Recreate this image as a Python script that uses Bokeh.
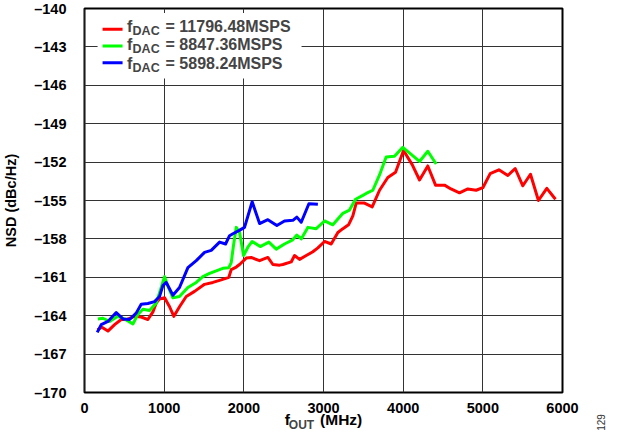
import math
from bokeh.plotting import figure
from bokeh.models import FixedTicker, Label, BoxAnnotation, Arrow, Range1d
from bokeh.embed import file_html
from bokeh.resources import INLINE

# ---------------- data ----------------
red_f = [163, 217, 293, 377, 460, 523, 628, 711, 795, 858, 900, 941, 1004, 1067, 1121, 1192,
         1276, 1381, 1506, 1611, 1715, 1811, 1841, 1904, 1946, 2029, 2092, 2197, 2301, 2364,
         2448, 2489, 2594, 2636, 2699, 2783, 2866, 2929, 3013, 3096, 3180, 3243, 3314, 3368,
         3410, 3514, 3611, 3703, 3807, 3904, 4004, 4113, 4205, 4309, 4406, 4519, 4600, 4707,
         4811, 4916, 5000, 5092, 5201, 5314, 5406, 5502, 5598, 5698, 5803, 5912]
red_nsd = [-165.1, -164.9, -165.2, -164.7, -164.3, -164.3, -164.05, -164.1, -164.3, -163.7,
           -163.0, -162.7, -162.6, -163.3, -164.05, -163.3, -162.5, -162.1, -161.55, -161.4,
           -161.2, -161.0, -160.4, -160.2, -160.0, -159.5, -159.45, -159.7, -159.45, -160.0,
           -160.05, -160.0, -159.8, -159.3, -159.6, -159.3, -159.0, -158.7, -158.2, -158.4,
           -157.5, -157.2, -156.9, -156.2, -155.2, -155.2, -155.5, -154.2, -153.2, -152.8,
           -151.1, -152.2, -153.4, -152.3, -153.8, -153.8, -154.1, -154.4, -154.1, -154.2,
           -154.0, -152.9, -152.6, -153.05, -152.5, -153.85, -152.95, -155.0, -154.05, -154.9]

green_f = [167, 230, 314, 418, 502, 607, 669, 732, 816, 900, 962, 1004, 1046, 1109, 1192,
           1297, 1402, 1485, 1569, 1653, 1736, 1811, 1841, 1870, 1904, 1946, 1996, 2050, 2104,
           2205, 2314, 2406, 2510, 2607, 2665, 2720, 2803, 2908, 3013, 3117, 3243, 3326, 3402,
           3494, 3536, 3619, 3703, 3786, 3891, 3995, 4100, 4205, 4309, 4414]
green_nsd = [-164.25, -164.2, -164.45, -164.05, -164.25, -164.65, -163.9, -163.5, -163.6,
             -163.0, -161.8, -160.95, -161.7, -162.6, -162.5, -161.8, -161.4, -160.95, -160.7,
             -160.5, -160.3, -160.25, -159.85, -158.5, -157.1, -157.5, -159.3, -158.65, -158.2,
             -158.6, -158.25, -158.8, -158.4, -158.1, -157.7, -158.0, -157.1, -157.2, -156.6,
             -156.9, -156.0, -155.75, -154.9, -154.6, -154.45, -154.2, -153.0, -151.6, -151.55,
             -150.85, -151.4, -151.95, -151.15, -152.15]

blue_f = [159, 209, 293, 397, 481, 565, 648, 711, 795, 879, 941, 983, 1025, 1109, 1192, 1297,
          1402, 1506, 1590, 1695, 1770, 1820, 1862, 1937, 2008, 2104, 2197, 2301, 2414, 2510,
          2615, 2665, 2720, 2816, 2929]
blue_nsd = [-165.3, -164.7, -164.45, -163.75, -164.25, -164.3, -163.8, -163.1, -163.05, -162.9,
            -162.5, -161.65, -161.4, -162.4, -161.8, -160.25, -159.7, -159.05, -158.9, -158.25,
            -158.4, -157.75, -157.6, -157.35, -157.1, -155.1, -156.8, -156.5, -156.95, -156.6,
            -156.55, -156.3, -156.7, -155.25, -155.3]

legend_values = ["= 11796.48MSPS", "= 8847.36MSPS", "= 5898.24MSPS"]
legend_main, legend_sub = "f", "DAC"
series_colors = ["#FF0000", "#00FF00", "#0000FF"]

x_ticks = [0, 1000, 2000, 3000, 4000, 5000, 6000]
y_ticks = [-170, -167, -164, -161, -158, -155, -152, -149, -146, -143, -140]
y_tick_labels = {t: "\u2013" + str(abs(t)) for t in y_ticks}
x_tick_labels = {t: str(t) for t in x_ticks}
x_label_main, x_label_sub, x_label_unit = "f", "OUT", "(MHz)"
y_label = "NSD (dBc/Hz)"
fig_note = "129"

# ---------------- geometry ----------------
FONT = "Liberation Sans"
W, H = 607, 432
FL, FR, FT, FB = 78, 45, 8, 40
FW, FH = W - FL - FR, H - FT - FB
X0, X1, Y0, Y1 = 0, 6000, -170, -140
# frame of the reference picture (photo pixels), used to place legend decorations
RX0, RX1, RY0, RY1 = 85.0, 563.0, 10.5, 392.0


def dx(ix):
    return X0 + (ix - RX0) / (RX1 - RX0) * (X1 - X0)


def dy(iy):
    return Y1 - (iy - RY0) / (RY1 - RY0) * (Y1 - Y0)


p = figure(width=W, height=H, output_backend="svg", toolbar_location=None,
           x_range=Range1d(X0 - 1, X1), y_range=Range1d(Y0, Y1),
           min_border_left=FL, min_border_right=FR, min_border_top=FT, min_border_bottom=FB)
p.background_fill_color = "white"
p.border_fill_color = "white"
p.outline_line_color = "black"
p.outline_line_width = 2

p.xaxis.ticker = FixedTicker(ticks=x_ticks)
p.yaxis.ticker = FixedTicker(ticks=y_ticks)
p.yaxis.major_label_overrides = y_tick_labels
p.xaxis.major_label_overrides = x_tick_labels
for ax in (p.xaxis, p.yaxis):
    ax.axis_line_color = None
    ax.major_tick_line_color = None
    ax.minor_tick_line_color = None
    ax.major_label_text_font = FONT
    ax.major_label_text_font_style = "bold"
    ax.major_label_text_font_size = "14.5px"
    ax.major_label_text_color = "black"
p.yaxis.major_label_standoff = 12
p.xaxis.major_label_standoff = 4
p.yaxis.axis_label = y_label
p.yaxis.axis_label_text_font = FONT
p.yaxis.axis_label_text_font_style = "bold"
p.yaxis.axis_label_text_font_size = "14.5px"
p.yaxis.axis_label_text_color = "black"
p.yaxis.axis_label_standoff = 12

# x title: "f ... (MHz)" centred under the frame; the subscript goes in the gap
p.xaxis.axis_label = x_label_main + "\u00a0" * 7 + x_label_unit
p.xaxis.axis_label_text_font = FONT
p.xaxis.axis_label_text_font_style = "bold"
p.xaxis.axis_label_text_font_size = "15.5px"
p.xaxis.axis_label_text_color = "black"
p.xaxis.axis_label_standoff = -5

p.xgrid.grid_line_color = "#333333"
p.ygrid.grid_line_color = "#333333"
p.xgrid.grid_line_width = 1
p.ygrid.grid_line_width = 1

for fxs, fys, c in ((red_f, red_nsd, series_colors[0]),
                    (green_f, green_nsd, series_colors[1]),
                    (blue_f, blue_nsd, series_colors[2])):
    p.line(fxs, fys, line_color=c, line_width=3, line_join="round")

# ---------------- legend (custom, with subscripts) ----------------
p.add_layout(BoxAnnotation(left=dx(98), right=dx(302), top=dy(15), bottom=dy(80),
                           fill_color="white", fill_alpha=1.0, line_color=None))
swatch_rows = [31.0, 47.7, 64.3]
text_rows = [28.7, 46.2, 65.0]
for ry, ty, c, txt in zip(swatch_rows, text_rows, series_colors, legend_values):
    p.add_layout(Arrow(x_start=dx(103), y_start=dy(ry), x_end=dx(123), y_end=dy(ry),
                       start=None, end=None, line_color=c, line_width=3))
    p.add_layout(Label(x=dx(127.5), y=dy(ty), text=legend_main, text_font=FONT,
                       text_font_style="bold", text_font_size="16px",
                       text_baseline="middle", text_align="left"))
    p.add_layout(Label(x=dx(133), y=dy(ty + 4.5), text=legend_sub, text_font=FONT,
                       text_font_style="bold", text_font_size="12.5px",
                       text_baseline="middle", text_align="left"))
    p.add_layout(Label(x=dx(166), y=dy(ty), text=txt, text_font=FONT, text_font_style="bold",
                       text_font_size="16px", text_baseline="middle", text_align="left"))

# ---------------- texts outside the frame (right side panels, not clipped) ----------------
frame_right = FL + FW
sub_w = 2.111 * 12  # width of the subscript text (its panel)
p.add_layout(Label(x=(292.5 / 0.987 - 8) - frame_right, y=-32, x_units="screen",
                   y_units="screen", text=x_label_sub, text_font=FONT, text_font_size="12px",
                   text_font_style="bold", text_baseline="middle", text_align="left"),
             "right")
p.add_layout(Label(x=601 - (frame_right + sub_w), y=-30, x_units="screen", y_units="screen",
                   text=fig_note, text_font=FONT, text_font_size="10px",
                   text_baseline="middle", text_align="center", angle=math.pi / 2,
                   text_color="#333333"), "right")

open("out.html", "w").write(file_html(p, INLINE))
